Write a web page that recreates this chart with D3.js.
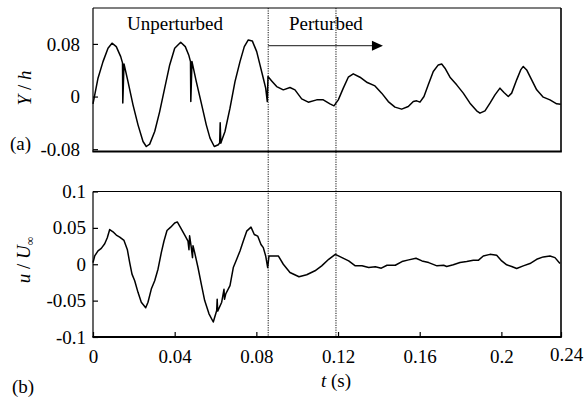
<!DOCTYPE html>
<html>
<head>
<meta charset="utf-8">
<script src="https://cdn.jsdelivr.net/npm/d3@7"></script>
<style>
  body { margin: 0; background: #fff; }
  svg { display: block; }
  text { font-family: "Liberation Serif", "Times New Roman", serif; fill: #000; }
</style>
</head>
<body>
<svg id="chart" width="584" height="404"></svg>
<script>
// (a) cylinder displacement Y/h against time
const timeA = [
  0, 0.00245, 0.0049, 0.00735, 0.0093, 0.0114, 0.01357, 0.01445, 0.01459, 0.01518,
  0.01714, 0.01959, 0.02204, 0.02449, 0.0261, 0.02777, 0.03022, 0.03266, 0.03511, 0.03756,
  0.04001, 0.04295, 0.0452, 0.04687, 0.04775, 0.0479, 0.04848, 0.05059, 0.05304, 0.05548,
  0.0573, 0.0594, 0.06136, 0.06204, 0.06229, 0.06259, 0.06317, 0.06464, 0.06709, 0.06954,
  0.07199, 0.0741, 0.07605, 0.07801, 0.08017, 0.08178, 0.0834, 0.08457, 0.08536, 0.0857,
  0.08751, 0.08996, 0.0932, 0.09647, 0.09892, 0.1022, 0.10544, 0.10955, 0.11278, 0.11606,
  0.11802, 0.12013, 0.12258, 0.12502, 0.12747, 0.13075, 0.13433, 0.1381, 0.14138, 0.14461,
  0.14789, 0.15117, 0.15441, 0.15686, 0.15852, 0.16014, 0.1621, 0.1642, 0.16665, 0.1691,
  0.17077, 0.17238, 0.17483, 0.17811, 0.18134, 0.18462, 0.1879, 0.18952, 0.19197, 0.19442,
  0.19686, 0.19931, 0.20127, 0.20338, 0.20504, 0.20749, 0.20945, 0.21072, 0.21239, 0.21484,
  0.21729, 0.22052, 0.2238, 0.22708, 0.22904
];
const displacementA = [
  -0.0111, 0.0279, 0.0531, 0.0735, 0.0811, 0.0759, 0.0607, 0.0512, -0.0096, 0.0496,
  0.0228, -0.0126, -0.0430, -0.0683, -0.0759, -0.0723, -0.0531, -0.0228, 0.0128, 0.0481,
  0.0735, 0.0826, 0.0759, 0.0633, 0.0531, -0.0076, 0.0531, 0.0228, -0.0100, -0.0430,
  -0.0631, -0.0759, -0.0733, -0.0703, -0.0399, -0.0710, -0.0657, -0.0531, -0.0176, 0.0228,
  0.0531, 0.0759, 0.0861, 0.0846, 0.0683, 0.0481, 0.0279, 0.0128, -0.0076, 0.0304,
  0.0238, 0.0152, 0.0102, 0.0137, 0.0102, -0.0035, -0.0085, -0.0050, -0.0050, -0.0111,
  -0.0141, -0.0050, 0.0128, 0.0294, 0.0345, 0.0294, 0.0213, 0.0162, 0.0052, -0.0076,
  -0.0161, -0.0191, -0.0152, -0.0076, -0.0065, -0.0085, 0, 0.0178, 0.0380, 0.0481,
  0.0496, 0.0431, 0.0294, 0.0178, 0.0052, -0.0100, -0.0217, -0.0252, -0.0217, -0.0100,
  0.0026, 0.0128, 0.0061, 0, 0.0052, 0.0254, 0.0405, 0.0458, 0.0405, 0.0254,
  0.0102, -0.0009, -0.0050, -0.0111, -0.0115
];

// (b) streamwise velocity u/U∞ against time
const timeB = [
  0, 0.00083, 0.00245, 0.00406, 0.00573, 0.007, 0.00818, 0.00979, 0.01141, 0.01308,
  0.01518, 0.0168, 0.01797, 0.0191, 0.02042, 0.02204, 0.02365, 0.02581, 0.02693, 0.02855,
  0.03022, 0.03183, 0.03345, 0.03477, 0.03624, 0.03805, 0.04001, 0.04128, 0.04295, 0.0452,
  0.04652, 0.0470, 0.04731, 0.04814, 0.04873, 0.04897, 0.0498, 0.05142, 0.05304, 0.0547,
  0.05681, 0.05891, 0.06058, 0.06082, 0.06107, 0.06303, 0.06415, 0.0644, 0.06499, 0.06709,
  0.06871, 0.07037, 0.07199, 0.07361, 0.07527, 0.07738, 0.07899, 0.08066, 0.08227, 0.0834,
  0.08457, 0.08555, 0.08619, 0.09075, 0.0932, 0.09647, 0.10088, 0.10465, 0.10872, 0.112,
  0.11543, 0.11866, 0.12194, 0.12522, 0.12845, 0.13173, 0.13502, 0.13825, 0.14119, 0.14398,
  0.14804, 0.15132, 0.1546, 0.15818, 0.16112, 0.1644, 0.16846, 0.17174, 0.17321, 0.17644,
  0.17973, 0.18301, 0.18624, 0.18869, 0.19114, 0.19442, 0.1977, 0.20015, 0.2026, 0.20504,
  0.20749, 0.21072, 0.214, 0.21729, 0.22052, 0.2238, 0.22625, 0.2287
];
const velocityB = [
  0.0023, 0.0114, 0.0183, 0.0218, 0.0282, 0.0364, 0.0477, 0.0446, 0.0401, 0.0373,
  0.0327, 0.0204, 0.0023, -0.0136, -0.0226, -0.0386, -0.0522, -0.0599, -0.0522, -0.0341,
  -0.0226, -0.0068, 0.0159, 0.0319, 0.0463, 0.0510, 0.0568, 0.0582, 0.0500, 0.0387,
  0.0319, 0.0200, 0.0391, 0.0228, 0.0091, 0.0255, 0.0159, -0.0045, -0.0272, -0.0499,
  -0.0681, -0.0794, -0.0635, -0.0481, -0.0644, -0.0522, -0.0345, -0.0481, -0.0409, -0.0294,
  -0.0045, 0.0068, 0.0183, 0.0319, 0.0455, 0.0510, 0.0409, 0.0387, 0.0272, 0.0228,
  0.0114, -0.0045, 0.0114, 0.0114, 0, -0.0113, -0.0172, -0.0144, -0.0090, -0.0022,
  0.0068, 0.0136, 0.0091, 0.0046, -0.0022, -0.0022, -0.0045, -0.0035, -0.0054, -0.0014,
  -0.0014, 0.0037, 0.0060, 0.0082, 0.0046, 0.0023, -0.0022, -0.0014, -0.0031, -0.0008,
  0.0023, 0.0037, 0.0054, 0.0054, 0.0114, 0.0136, 0.0123, 0.0046, -0.0008, -0.0031,
  -0.0059, -0.0022, 0.0010, 0.0068, 0.0101, 0.0114, 0.0091, 0.0010
];

// axis ticks and labels
const xTicks = [0, 0.04, 0.08, 0.12, 0.16, 0.2, 0.2292];
const xTickLabels = ["0", "0.04", "0.08", "0.12", "0.16", "0.2", "0.24"];
const yTicksA = [0.08, 0, -0.08];
const yTickLabelsA = ["0.08", "0", "-0.08"];
const yTicksB = [0.1, 0.05, 0, -0.05, -0.1];
const yTickLabelsB = ["0.1", "0.05", "0", "-0.05", "-0.1"];

// times where the perturbation starts and one cycle later
const markerTimes = [0.0858, 0.119];
const arrowEndTime = 0.142;
const arrowLevel = 0.0774;

const svg = d3.select("#chart");
const fs = 19;

const left = 93, right = 561;
const topA = 8, bottomA = 151.5;
const topB = 191.5, bottomB = 337;

const x = d3.scaleLinear().domain([0, 0.2292]).range([left, right]);
const yA = d3.scaleLinear().domain([-0.0835, 0.1346]).range([bottomA, topA]);
const yB = d3.scaleLinear().domain([-0.1, 0.1]).range([bottomB, topB]);

// marker lines across both panels
svg.append("g").selectAll("line").data(markerTimes).join("line")
  .attr("x1", d => x(d)).attr("x2", d => x(d))
  .attr("y1", topA).attr("y2", bottomB)
  .attr("stroke", "#111").attr("stroke-width", 1)
  .attr("stroke-dasharray", "1.2,1.2");

// panel frames
function frame(top, bottom) {
  const g = svg.append("g").attr("fill", "none").attr("stroke", "#000");
  g.append("line").attr("x1", left).attr("x2", right).attr("y1", top).attr("y2", top).attr("stroke-width", 1.2);
  g.append("line").attr("x1", left).attr("x2", left).attr("y1", top).attr("y2", bottom).attr("stroke-width", 1.2);
  g.append("line").attr("x1", right).attr("x2", right).attr("y1", top).attr("y2", bottom).attr("stroke-width", 1.6);
  g.append("line").attr("x1", left - 0.6).attr("x2", right + 0.8).attr("y1", bottom).attr("y2", bottom).attr("stroke-width", 2.2);
}
frame(topA, bottomA);
frame(topB, bottomB);

// y axes
function yAxis(scale, ticks, labels, pad) {
  const g = svg.append("g").attr("transform", `translate(${left},0)`)
    .call(d3.axisLeft(scale).tickValues(ticks).tickFormat((d, i) => labels[i])
      .tickSizeInner(-5).tickSizeOuter(0).tickPadding(pad));
  g.select(".domain").remove();
  g.attr("font-family", null);
  g.selectAll(".tick line").attr("stroke", "#000").attr("stroke-width", 1.2);
  g.selectAll(".tick text").attr("font-size", fs);
}
yAxis(yA, yTicksA, yTickLabelsA, 13);
yAxis(yB, yTicksB, yTickLabelsB, 7);

// x axis on the lower panel
const gx = svg.append("g").attr("transform", `translate(0,${bottomB})`)
  .call(d3.axisBottom(x).tickValues(xTicks).tickFormat((d, i) => xTickLabels[i])
    .tickSizeInner(-5).tickSizeOuter(0).tickPadding(13));
gx.select(".domain").remove();
gx.attr("font-family", null);
gx.selectAll(".tick line").attr("stroke", "#000").attr("stroke-width", 1.2);
gx.selectAll(".tick text").attr("font-size", fs);
gx.selectAll(".tick").filter((d, i) => i === xTicks.length - 1)
  .select("text").attr("dx", 5).attr("y", 11);

// traces
const lineA = d3.line().x(d => x(d[0])).y(d => yA(d[1]));
const lineB = d3.line().x(d => x(d[0])).y(d => yB(d[1]));
svg.append("path").datum(d3.zip(timeA, displacementA))
  .attr("d", lineA).attr("fill", "none").attr("stroke", "#000")
  .attr("stroke-width", 1.5).attr("stroke-linejoin", "round");
svg.append("path").datum(d3.zip(timeB, velocityB))
  .attr("d", lineB).attr("fill", "none").attr("stroke", "#000")
  .attr("stroke-width", 1.5).attr("stroke-linejoin", "round");

// "Perturbed" arrow
const ax0 = x(markerTimes[0]), ax1 = x(arrowEndTime), ay = yA(arrowLevel);
svg.append("line").attr("x1", ax0).attr("x2", ax1 - 10).attr("y1", ay).attr("y2", ay)
  .attr("stroke", "#444").attr("stroke-width", 1.2);
svg.append("path")
  .attr("d", `M${ax1},${ay} L${ax1 - 11},${ay - 5} L${ax1 - 11},${ay + 5} Z`)
  .attr("fill", "#000");

// annotations
svg.append("text").attr("x", 127).attr("y", 30).attr("font-size", fs).text("Unperturbed");
svg.append("text").attr("x", 289).attr("y", 30).attr("font-size", fs).text("Perturbed");

svg.append("text").attr("x", 10).attr("y", 150).attr("font-size", fs).text("(a)");
svg.append("text").attr("x", 12).attr("y", 393).attr("font-size", fs).text("(b)");

const tl = svg.append("text").attr("x", 336).attr("y", 387).attr("font-size", fs)
  .attr("text-anchor", "middle");
tl.append("tspan").attr("font-style", "italic").text("t");
tl.append("tspan").text(" (s)");

const ya = svg.append("text").attr("transform", "translate(31,88) rotate(-90)")
  .attr("font-size", fs).attr("text-anchor", "middle");
ya.append("tspan").attr("font-style", "italic").text("Y");
ya.append("tspan").text(" / ");
ya.append("tspan").attr("font-style", "italic").text("h");

const yb = svg.append("text").attr("transform", "translate(30,260) rotate(-90)")
  .attr("font-size", fs).attr("text-anchor", "middle");
yb.append("tspan").attr("font-style", "italic").text("u");
yb.append("tspan").text(" / ");
yb.append("tspan").attr("font-style", "italic").text("U");
yb.append("tspan").attr("font-size", 12).attr("dy", 4).text("∞");
</script>
</body>
</html>
